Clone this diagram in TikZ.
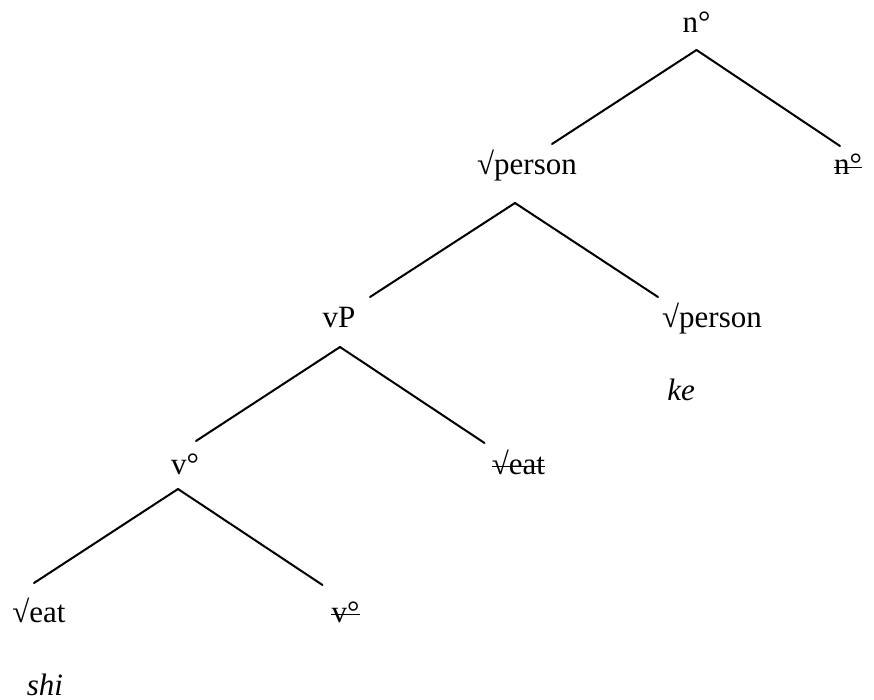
\documentclass[tikz,border=0pt]{standalone}
\usepackage{fontspec}
\setmainfont{Liberation Serif}
\tikzset{
  lbl/.style={inner sep=0pt, anchor=base, font=\fontsize{31}{37}\selectfont},
  branch/.style={line width=2pt, line cap=round},
  strike/.style={line width=1.5pt}
}

\begin{document}
\begin{tikzpicture}[x=1pt,y=-1pt]

\useasboundingbox (0,0) rectangle (874,700);

%labels:
\node[lbl] (nroot) at (696.5,33) {n°};
\node[lbl] (person) at (527,175) {√person};
\node[lbl] (ncopy) at (848,175) {n°};
\node[lbl] (vP) at (339,327) {vP};
\node[lbl] (personb) at (712,327) {√person};
\node[lbl] (ke) at (681,400) {\textit{ke}};
\node[lbl] (v) at (185,474) {v°};
\node[lbl] (eatcopy) at (518.5,474) {√eat};
\node[lbl] (eat) at (39,622) {√eat};
\node[lbl] (vcopy) at (345.5,622) {v°};
\node[lbl] (shi) at (45,695) {\textit{shi}};

%deleted copies:
\foreach \c in {ncopy,eatcopy,vcopy}
  \draw[strike] ([yshift=7.5pt]\c.base west) -- ([yshift=7.5pt]\c.base east);

%branches:
\draw[branch] ([shift={(0,17)}]nroot.base) -- ([shift={(25,-31)}]person.base);
\draw[branch] ([shift={(0,17)}]nroot.base) -- ([shift={(-8,-29)}]ncopy.base);
\draw[branch] ([shift={(-12,28)}]person.base) -- ([shift={(31,-30)}]vP.base);
\draw[branch] ([shift={(-12,28)}]person.base) -- ([shift={(-54,-30)}]personb.base);
\draw[branch] ([shift={(1,20)}]vP.base) -- ([shift={(11,-33)}]v.base);
\draw[branch] ([shift={(1,20)}]vP.base) -- ([shift={(-34,-31)}]eatcopy.base);
\draw[branch] ([shift={(-7,15)}]v.base) -- ([shift={(-5,-39)}]eat.base);
\draw[branch] ([shift={(-7,15)}]v.base) -- ([shift={(-23,-37)}]vcopy.base);

\end{tikzpicture}
\end{document}
